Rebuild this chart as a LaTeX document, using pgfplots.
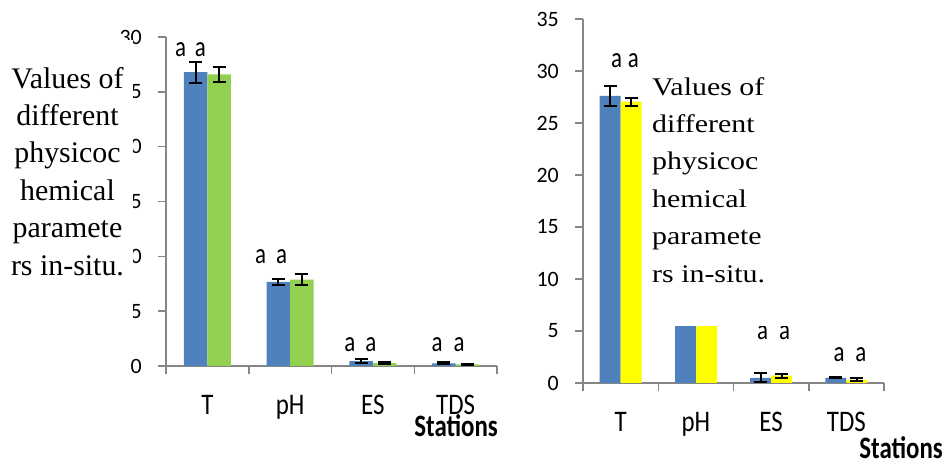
\documentclass[border=0pt]{standalone}
\usepackage{fontspec}
\setmainfont{Liberation Serif}
\newfontfamily\carl{Carlito}
\usepackage{graphicx}
\usepackage{pgfplots}
\pgfplotsset{compat=1.18}
\definecolor{eblue}{HTML}{4F81BD}
\definecolor{egreen}{HTML}{92D050}
\definecolor{eyel}{HTML}{FFFF00}
\definecolor{axgray}{HTML}{868686}
\newcommand\st[1]{\scalebox{1}[1.2]{#1}}
\newcommand\twoa[1]{\scalebox{1}[1.25]{a\kern#1 a}}
\tikzset{lab/.style={font=\carl\fontsize{23}{25}\selectfont, anchor=base, inner sep=0pt}}
\pgfplotsset{
  mybar/.style={
    scale only axis,
    axis x line=bottom, axis y line=left,
    axis line style={axgray, line width=1.5bp, -},
    xmin=-0.5, xmax=3.5, ymin=0,
    xtick={0,1,2,3},
    xticklabels={\st{T},\st{pH},\st{ES},\st{TDS}},
    major x tick style={draw=none},
    minor xtick={-0.5,0.5,1.5,2.5,3.5},
    minor x tick style={axgray, line width=1.5bp},
    minor tick length=8bp, major tick length=8bp,
    y tick style={axgray, line width=1.5bp},
    tick align=outside,
    /pgf/number format/assume math mode=true,
    yticklabel style={font=\carl\fontsize{22}{24}\selectfont, text=black, inner xsep=0pt, xshift=-16bp},
    xticklabel style={font=\carl\fontsize{25}{27}\selectfont, text=black, anchor=north, inner sep=0pt, yshift=-21bp},
    ybar, clip=false,
    error bars/y dir=both, error bars/y explicit,
    error bars/error bar style={black, line width=2bp},
    error bars/error mark options={black, line width=2bp, mark size=6.5bp, rotate=90},
  },
}
\begin{document}
\begin{tikzpicture}
\path[use as bounding box] (0,0) rectangle (947bp,462bp);
% left chart
\begin{axis}[mybar, at={(166bp,96bp)}, anchor=south west, width=331bp, height=329bp,
  ymax=30, ytick={0,5,...,30}, bar width=0.284]
\addplot[fill=eblue, draw=none, bar shift=-0.142] coordinates {
  (0,26.8) +- (0,0.95) (1,7.66) +- (0,0.24) (2,0.45) +- (0,0.15) (3,0.24) +- (0,0.1)};
\addplot[fill=egreen, draw=none, bar shift=0.142] coordinates {
  (0,26.6) +- (0,0.7) (1,7.88) +- (0,0.5) (2,0.27) +- (0,0.1) (3,0.15) +- (0,0.06)};
\node[lab] at (axis cs:-0.204,28.22) {\twoa{9bp}};
\node[lab] at (axis cs:0.769,9.39) {\twoa{10bp}};
\node[lab] at (axis cs:1.850,1.28) {\twoa{10bp}};
\node[lab] at (axis cs:2.908,1.28) {\twoa{11bp}};
\end{axis}
% right chart
\begin{axis}[mybar, at={(583bp,79bp)}, anchor=south west, width=301bp, height=364bp,
  ymax=35, ytick={0,5,...,35}, bar width=0.279]
\addplot[fill=eblue, draw=none, bar shift=-0.14] coordinates {
  (0,27.6) +- (0,1.0) (2,0.5) +- (0,0.45) (3,0.5) +- (0,0.05)};
\addplot[fill=eyel, draw=none, bar shift=0.14] coordinates {
  (0,27.05) +- (0,0.4) (2,0.7) +- (0,0.2) (3,0.3) +- (0,0.15)};
\addplot[fill=eblue, draw=none, bar shift=-0.14, error bars/y explicit=false, error bars/y dir=none] coordinates {(1,5.5)};
\addplot[fill=eyel, draw=none, bar shift=0.14, error bars/y explicit=false, error bars/y dir=none] coordinates {(1,5.5)};
\node[lab] at (axis cs:0.058,30.38) {\twoa{6bp}};
\node[lab] at (axis cs:2.032,4.23) {\twoa{11bp}};
\node[lab] at (axis cs:3.048,2.02) {\twoa{11bp}};
\end{axis}
% axis lines drawn explicitly
\draw[axgray, line width=2bp] (166bp,96bp) -- (166bp,425bp);
\draw[axgray, line width=2bp] (583bp,79bp) -- (583bp,443bp);
% white boxes covering parts (as in the reference)
\fill[white] (0bp,127bp) rectangle (133bp,422bp);
\fill[white] (643bp,136bp) rectangle (800bp,392bp);
% text blocks
\foreach \t [count=\i from 0] in {Values of,different,physicoc,hemical,paramete,rs in-situ.}{
  \node[anchor=base, inner sep=0pt, font=\fontsize{30}{36}\selectfont] at (67.5bp,{(374-37.4*\i)*1bp}) {\t};
  \node[anchor=base west, inner sep=0pt, font=\fontsize{30}{36}\selectfont] at (652bp,{(367-37.4*\i)*1bp}) {\scalebox{1}[0.85]{\t}};
}
\node[anchor=base east, inner sep=0pt, font=\carl\bfseries\fontsize{25}{27}\selectfont] at (498bp,26bp) {\scalebox{1}[1.25]{Stations}};
\node[anchor=base east, inner sep=0pt, font=\carl\bfseries\fontsize{25}{27}\selectfont] at (943bp,4bp) {\scalebox{1}[1.25]{Stations}};
\end{tikzpicture}
\end{document}
